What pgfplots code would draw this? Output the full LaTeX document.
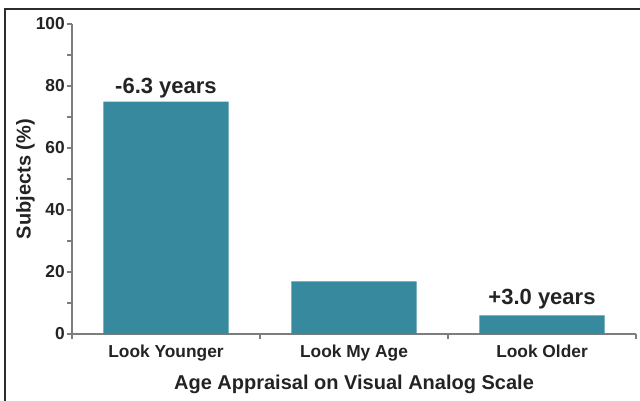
\documentclass[border=0pt]{standalone}
\usepackage{fontspec}
\setmainfont{Liberation Sans}
\usepackage{pgfplots}
\pgfplotsset{compat=1.18}
\usetikzlibrary{calc}
\definecolor{barteal}{RGB}{55,138,158}
\definecolor{axgray}{RGB}{125,125,125}
\definecolor{txt}{RGB}{35,35,35}
\definecolor{frame}{RGB}{45,45,45}
\begin{document}
\begin{tikzpicture}
\begin{axis}[
  scale only axis, width=423pt, height=232.5pt,
  xmin=-0.5, xmax=2.5, ymin=0, ymax=100,
  axis x line*=bottom, axis y line*=left,
  axis line style={axgray, line width=0.8pt},
  tick align=outside,
  tick style={axgray, line width=0.8pt},
  major tick length=3.75pt, minor tick length=3.75pt,
  ytick={0,20,40,60,80,100}, minor ytick={10,30,50,70,90},
  xtick={-0.5,0.5,1.5,2.5}, xticklabels={},
  extra x ticks={0,1,2},
  extra x tick labels={Look Younger, Look My Age, Look Older},
  extra x tick style={major tick length=0pt},
  /pgf/number format/assume math mode=true,
  ticklabel style={font=\fontsize{13}{15}\selectfont\bfseries, text=txt},
  yticklabel style={inner sep=1.5pt},
  xticklabel style={inner sep=0pt, yshift=-8pt},
  xlabel={Age Appraisal on Visual Analog Scale},
  ylabel={Subjects (\%)},
  label style={font=\fontsize{15}{18}\selectfont\bfseries, text=txt},
  xlabel style={at={(rel axis cs:0.5,0)}, anchor=base, yshift=-41.25pt},
  ylabel style={at={(rel axis cs:0,0.5)}, anchor=base, rotate=0, yshift=31pt},
  ybar, bar width=0.665,
]
\addplot[fill=barteal, draw=none] coordinates {(0,75) (1,17) (2,6)};
\node[anchor=base, yshift=6pt, font=\fontsize{16.5}{20}\selectfont\bfseries, text=txt] at (axis cs:0,75) {-6.3 years};
\node[anchor=base, yshift=8pt, font=\fontsize{16.5}{20}\selectfont\bfseries, text=txt] at (axis cs:2,6) {+3.0 years};
\coordinate (o) at (rel axis cs:0,0);
\coordinate (t) at (rel axis cs:1,1);
\end{axis}
\pgfresetboundingbox
\path[use as bounding box] ($(o)+(-54pt,-49.5pt)$) rectangle ($(t)+(3pt,18pt)$);
\draw[frame, line width=1.5pt] ($(o)+(-49.9pt,-80pt)$) -- ($(o|-t)+(-49.9pt,11.6pt)$) -- ($(t)+(20pt,11.6pt)$);
\end{tikzpicture}
\end{document}
